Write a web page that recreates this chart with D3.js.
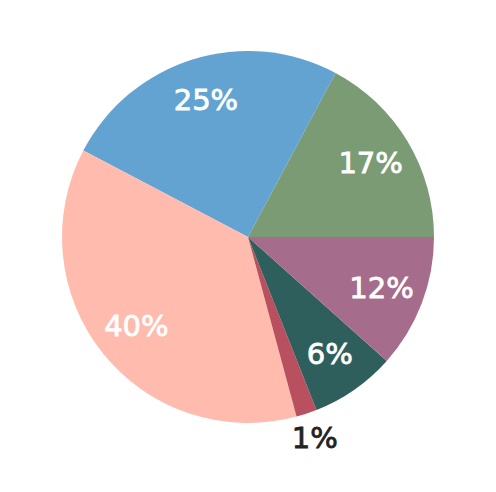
<!DOCTYPE html>
<html>
<head>
<meta charset="utf-8">
<script src="https://cdn.jsdelivr.net/npm/d3@7"></script>
<style>
  html, body { margin: 0; padding: 0; background: #fff; }
  svg { display: block; }
</style>
</head>
<body>
<svg id="chart" width="496" height="492"></svg>
<script>
// Data (order: counter-clockwise from 3 o'clock)
const categories = ["A", "B", "C", "D", "E", "F"];
const values = [17.2, 25.1, 36.9, 1.8, 7.4, 11.6];
const labels = ["17%", "25%", "40%", "1%", "6%", "12%"];
const colors = ["#7b9b75", "#62a3d1", "#ffbbad", "#b9505f", "#2f5f5d", "#a56c8b"];
const outside = [false, false, false, true, false, false];

const svg = d3.select("#chart");
const cx = 248, cy = 237, r = 186;
const g = svg.append("g").attr("transform", `translate(${cx},${cy})`);

const pie = d3.pie().sort(null).value(d => d)
  .startAngle(Math.PI / 2).endAngle(Math.PI / 2 - 2 * Math.PI);
const arcs = pie(values);

const arc = d3.arc().innerRadius(0).outerRadius(r);
g.selectAll("path.slice").data(arcs).join("path")
  .attr("class", "slice")
  .attr("d", arc)
  .attr("fill", (d, i) => colors[i]);

const labelIn = d3.arc().innerRadius(143).outerRadius(143);
const labelOut = d3.arc().innerRadius(212).outerRadius(212);

g.selectAll("text.lbl").data(arcs).join("text")
  .attr("class", "lbl")
  .attr("transform", (d, i) => {
    const c = (outside[i] ? labelOut : labelIn).centroid(d);
    return `translate(${c[0]},${c[1]})`;
  })
  .attr("text-anchor", "middle")
  .attr("dominant-baseline", "central")
  .attr("font-family", "'DejaVu Sans', sans-serif")
  .attr("font-weight", "normal")
  .attr("font-size", 29)
  .attr("fill", (d, i) => outside[i] ? "#222222" : "#ffffff")
  .attr("stroke", (d, i) => outside[i] ? "#222222" : "#ffffff")
  .attr("stroke-width", 0.8)
  .text((d, i) => labels[i]);
</script>
</body>
</html>
